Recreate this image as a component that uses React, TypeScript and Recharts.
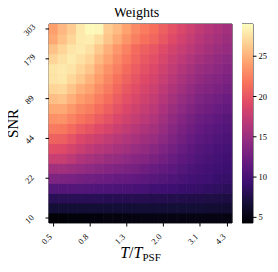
import { Bar, BarChart, Cell, ReferenceArea, XAxis, YAxis } from 'recharts';

// T / T_PSF for each column, left to right
const tRatio = [0.5, 0.56, 0.63, 0.71, 0.8, 0.89, 1.0, 1.13, 1.27, 1.42, 1.6, 1.79, 2.0, 2.25, 2.5, 2.8, 3.1, 3.5, 3.9, 4.3];
// SNR for each row, top to bottom
const snrLevels = [303, 255, 214, 179, 151, 127, 107, 89, 75, 63, 53, 44, 37, 31, 26, 22, 18, 14, 12, 10];
const tTickIdx = [0, 4, 8, 12, 16, 19];
const snrTickIdx = [0, 3, 7, 11, 15, 19];
const cbarTicks = [5, 10, 15, 20, 25];
const vMin = 4.3;
const vMax = 29;

// weights, one array per T column, listed from SNR 303 down to SNR 10
const weightsByT = [
  [24.1, 24.5, 25.8, 26.8, 27.7, 27.6, 26.8, 25.7, 24.5, 23.3, 22.1, 20.7, 19.4, 17.8, 15.4, 13.3, 10.7, 8.1, 6.7, 4.4],
  [25.3, 25.8, 26.8, 27.5, 27.9, 27.8, 27.0, 25.9, 24.6, 23.4, 22.0, 20.6, 19.2, 17.6, 15.4, 13.2, 10.8, 8.1, 6.7, 4.5],
  [26.4, 26.9, 27.7, 28.0, 27.6, 27.0, 26.0, 24.9, 23.7, 22.6, 21.3, 19.8, 18.5, 17.0, 15.1, 13.0, 10.8, 8.1, 6.7, 4.6],
  [27.9, 28.0, 28.0, 27.5, 26.8, 26.1, 24.9, 23.9, 22.8, 21.8, 20.4, 18.9, 17.8, 16.2, 14.7, 12.7, 10.7, 8.1, 6.7, 4.6],
  [28.8, 28.2, 27.5, 26.8, 26.0, 25.1, 24.2, 23.3, 22.3, 21.2, 19.9, 18.4, 17.2, 15.8, 14.3, 12.5, 10.6, 8.1, 6.7, 4.7],
  [28.6, 27.3, 26.2, 25.4, 24.6, 23.9, 23.1, 22.3, 21.4, 20.4, 19.2, 17.9, 16.7, 15.4, 14.0, 12.3, 10.5, 8.1, 6.7, 4.7],
  [26.4, 26.0, 24.9, 24.2, 23.4, 22.8, 22.1, 21.4, 20.6, 19.7, 18.6, 17.3, 16.3, 15.0, 13.7, 12.1, 10.4, 8.0, 6.7, 4.8],
  [25.5, 24.8, 23.6, 23.0, 22.4, 21.7, 21.1, 20.4, 19.7, 18.9, 17.9, 16.8, 15.8, 14.7, 13.4, 11.9, 10.3, 8.0, 6.7, 4.8],
  [24.2, 23.5, 22.5, 21.9, 21.3, 20.7, 20.1, 19.5, 18.9, 18.2, 17.3, 16.3, 15.4, 14.3, 13.1, 11.7, 10.2, 8.0, 6.7, 4.9],
  [23.0, 22.4, 21.3, 20.9, 20.4, 19.9, 19.4, 18.8, 18.2, 17.5, 16.7, 15.8, 14.9, 13.9, 12.8, 11.5, 10.0, 7.9, 6.7, 4.9],
  [22.2, 21.6, 20.6, 20.1, 19.6, 19.1, 18.6, 18.1, 17.5, 16.9, 16.1, 15.3, 14.5, 13.6, 12.4, 11.3, 9.9, 7.9, 6.7, 5.0],
  [21.5, 21.0, 20.0, 19.5, 19.0, 18.5, 18.0, 17.5, 16.9, 16.3, 15.6, 14.9, 14.0, 13.1, 12.0, 11.0, 9.6, 7.8, 6.7, 5.0],
  [20.6, 20.1, 19.2, 18.7, 18.1, 17.6, 17.1, 16.6, 16.0, 15.4, 14.8, 14.2, 13.4, 12.6, 11.6, 10.7, 9.5, 7.8, 6.7, 5.0],
  [19.7, 19.2, 18.4, 17.8, 17.3, 16.8, 16.2, 15.7, 15.1, 14.5, 13.9, 13.4, 12.7, 12.0, 11.2, 10.4, 9.3, 7.7, 6.7, 5.0],
  [18.8, 18.3, 17.6, 17.0, 16.4, 15.9, 15.4, 14.8, 14.3, 13.7, 13.1, 12.6, 12.0, 11.4, 10.7, 10.1, 9.1, 7.7, 6.7, 5.0],
  [18.0, 17.5, 16.9, 16.3, 15.7, 15.2, 14.6, 14.1, 13.5, 12.9, 12.4, 11.9, 11.4, 10.9, 10.3, 9.8, 9.0, 7.6, 6.7, 5.0],
  [17.2, 16.7, 16.2, 15.6, 15.0, 14.5, 13.9, 13.3, 12.8, 12.2, 11.7, 11.2, 10.8, 10.4, 10.0, 9.6, 8.9, 7.6, 6.7, 5.0],
  [16.6, 16.1, 15.6, 15.1, 14.6, 14.0, 13.5, 12.9, 12.4, 11.8, 11.3, 10.9, 10.5, 10.1, 9.7, 9.4, 8.7, 7.5, 6.6, 5.0],
  [16.0, 15.6, 15.1, 14.6, 14.1, 13.6, 13.1, 12.5, 12.0, 11.4, 10.9, 10.5, 10.1, 9.8, 9.4, 9.1, 8.5, 7.4, 6.6, 5.0],
  [15.5, 15.1, 14.7, 14.2, 13.7, 13.2, 12.7, 12.1, 11.6, 11.0, 10.6, 10.2, 9.8, 9.5, 9.2, 8.9, 8.3, 7.3, 6.5, 4.9],
];

const magma = ['#000004', '#140e36', '#3b0f70', '#641a80', '#8c2981', '#b73779', '#de4968', '#f7705c', '#fe9f6d', '#fecf92', '#fcfdbf'];
const font = '"Liberation Serif", "DejaVu Serif", serif';

const hexRgb = (h: string) => [1, 3, 5].map((i) => parseInt(h.slice(i, i + 2), 16));

const magmaColor = (v: number) => {
  const t = Math.min(1, Math.max(0, (v - vMin) / (vMax - vMin))) * (magma.length - 1);
  const i = Math.min(magma.length - 2, Math.floor(t));
  const f = t - i;
  const a = hexRgb(magma[i]);
  const b = hexRgb(magma[i + 1]);
  const c = a.map((x, k) => Math.round(x + (b[k] - x) * f));
  return `rgb(${c[0]},${c[1]},${c[2]})`;
};

const nRows = snrLevels.length;
const data = tRatio.map((t, idx) => ({ idx, t }));

const XTick = ({ x, payload }: any) => {
  const cx = x - 7;
  const cy = 239;
  return (
    <text x={cx} y={cy} textAnchor="middle" dominantBaseline="central" fontSize={8.5} fontFamily={font} fill="#000"
      transform={`rotate(-45 ${cx} ${cy})`}>
      {tRatio[payload.value].toFixed(1)}
    </text>
  );
};

const YTick = ({ x, y, payload }: any) => {
  const row = nRows - 1 - (payload.value - 0.5);
  const cx = x - 14;
  const cy = y + 1;
  return (
    <text x={cx} y={cy} textAnchor="middle" dominantBaseline="central" fontSize={8.5} fontFamily={font} fill="#000"
      transform={`rotate(-45 ${cx} ${cy})`}>
      {snrLevels[row]}
    </text>
  );
};

const XTitle = ({ viewBox }: any) => (
  <text x={viewBox.x + viewBox.width / 2} y={258} textAnchor="middle" fontSize={16} fontFamily={font} fill="#000">
    <tspan fontStyle="italic">T</tspan>
    <tspan>/</tspan>
    <tspan fontStyle="italic">T</tspan>
    <tspan fontSize={11} dy={3}>PSF</tspan>
  </text>
);

const YTitle = ({ viewBox }: any) => {
  const cx = 18;
  const cy = viewBox.y + viewBox.height / 2;
  return (
    <text x={cx} y={cy} textAnchor="middle" fontSize={15} fontFamily={font} fill="#000" transform={`rotate(-90 ${cx} ${cy})`}>
      SNR
    </text>
  );
};

export default function App() {
  return (
    <div style={{ position: 'relative', margin: -8, width: 278, height: 272, background: '#fff' }}>
      <svg width={278} height={24} style={{ position: 'absolute', left: 0, top: 0 }}>
        <text x={136.5} y={17} textAnchor="middle" fontSize={14} fontFamily={font} fill="#000">Weights</text>
      </svg>
      <div style={{ position: 'absolute', left: 0, top: 0 }}>
        <BarChart width={278} height={272} data={data} margin={{ top: 24, right: 46, bottom: 0, left: 0 }}
          barCategoryGap={0} barGap={0}>
          <XAxis dataKey="idx" type="category" ticks={tTickIdx} interval={0} height={49} tickSize={3.5}
            tickLine={{ stroke: '#000' }} axisLine={false} tick={<XTick />} label={<XTitle />} />
          <YAxis type="number" domain={[0, nRows]} ticks={snrTickIdx.map((r) => nRows - 1 - r + 0.5)} width={49}
            tickSize={3.5} tickLine={{ stroke: '#000' }} axisLine={false} tick={<YTick />} label={<YTitle />}
            allowDataOverflow />
          {snrLevels.map((_, k) => {
            const row = nRows - 1 - k; // stack from the bottom row up
            return (
              <Bar key={k} dataKey={() => 1} stackId="w" isAnimationActive={false}>
                {data.map((d) => {
                  const fill = magmaColor(weightsByT[d.idx][row]);
                  return <Cell key={d.idx} fill={fill} stroke={fill} strokeWidth={0.9} />;
                })}
              </Bar>
            );
          })}
          <ReferenceArea y1={0} y2={nRows} fill="none" stroke="#222" strokeWidth={1} ifOverflow="visible" />
        </BarChart>
      </div>
      <div style={{ position: 'absolute', left: 242, top: 0 }}>
        <BarChart width={41} height={272} data={[{ name: 'w', range: [vMin, vMax] }]}
          margin={{ top: 24, right: 0, bottom: 49, left: 0 }} barCategoryGap={0}>
          <defs>
            <linearGradient id="magmaBar" x1="0" y1="1" x2="0" y2="0">
              {magma.map((c, i) => (
                <stop key={i} offset={`${(i / (magma.length - 1)) * 100}%`} stopColor={c} />
              ))}
            </linearGradient>
          </defs>
          <XAxis dataKey="name" hide />
          <YAxis orientation="right" type="number" domain={[vMin, vMax]} ticks={cbarTicks} width={30} tickSize={3.5}
            tickMargin={2} tickLine={{ stroke: '#000' }} axisLine={false}
            tick={{ fontSize: 8.5, fill: '#000', fontFamily: font }} allowDataOverflow />
          <Bar dataKey="range" fill="url(#magmaBar)" isAnimationActive={false} />
          <ReferenceArea y1={vMin} y2={vMax} fill="none" stroke="#222" strokeWidth={1} ifOverflow="visible" />
        </BarChart>
      </div>
    </div>
  );
}
